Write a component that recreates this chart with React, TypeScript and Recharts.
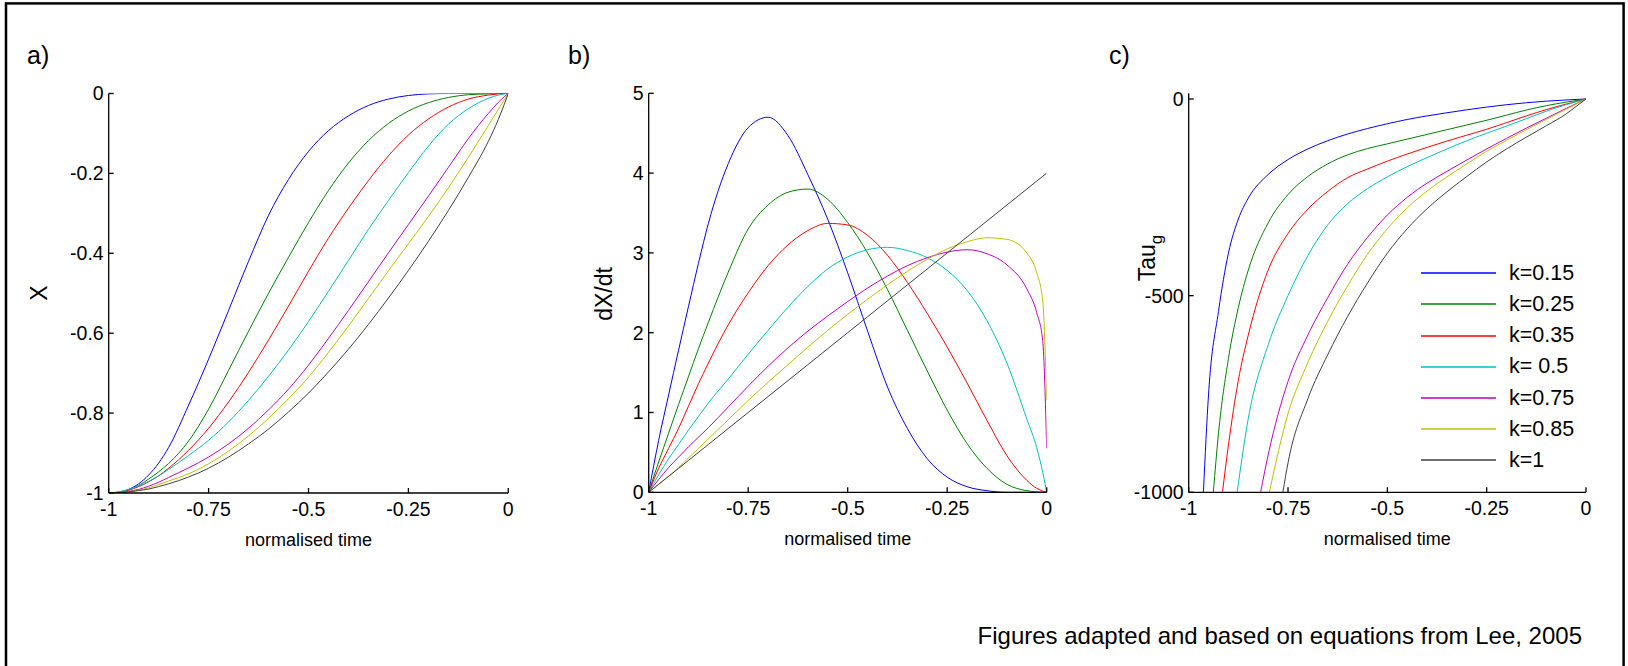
import React from "react";
import { LineChart, Line, XAxis, YAxis, Legend } from "recharts";

const FONT = "'Liberation Sans', Arial, sans-serif";

// normalised time grid shared by all panels
const TIME = [
  -1, -0.975, -0.95, -0.925, -0.9, -0.875, -0.85, -0.8, -0.75, -0.7, -0.65, -0.6, -0.55,
  -0.5, -0.45, -0.4, -0.35, -0.3, -0.25, -0.2, -0.15, -0.1, -0.05, -0.025, -0.01, 0,
];
const TIME_TICKS = [-1, -0.75, -0.5, -0.25, 0];

const K_LABELS = ["k=0.15", "k=0.25", "k=0.35", "k= 0.5", "k=0.75", "k=0.85", "k=1"];
const K_COLORS = ["#0000ff", "#008000", "#ff0000", "#00bfbf", "#bf00bf", "#bfbf00", "#404040"];

// a) X
const X_TICKS = [-1, -0.8, -0.6, -0.4, -0.2, 0];
const xK015 = [-1, -0.998, -0.991, -0.977, -0.955, -0.925, -0.886, -0.78, -0.665, -0.543, -0.42, -0.305, -0.215, -0.145, -0.093, -0.056, -0.03, -0.014, -0.005, -0.001, 0, 0, 0, 0, 0, 0];
const xK025 = [-1, -0.998, -0.992, -0.981, -0.965, -0.947, -0.926, -0.87, -0.79, -0.693, -0.595, -0.5, -0.41, -0.323, -0.243, -0.174, -0.118, -0.075, -0.044, -0.023, -0.01, -0.003, -0.001, 0, 0, 0];
const xK035 = [-1, -0.998, -0.993, -0.984, -0.972, -0.957, -0.938, -0.893, -0.838, -0.772, -0.698, -0.617, -0.532, -0.445, -0.362, -0.287, -0.218, -0.156, -0.104, -0.064, -0.034, -0.014, -0.004, -0.001, 0, 0];
const xK05 = [-1, -0.997, -0.991, -0.982, -0.971, -0.957, -0.941, -0.906, -0.868, -0.822, -0.768, -0.708, -0.642, -0.571, -0.495, -0.418, -0.34, -0.268, -0.198, -0.132, -0.077, -0.038, -0.012, -0.004, -0.001, 0];
const xK075 = [-1, -0.999, -0.996, -0.991, -0.983, -0.973, -0.961, -0.937, -0.91, -0.877, -0.838, -0.792, -0.74, -0.68, -0.613, -0.543, -0.471, -0.399, -0.328, -0.257, -0.185, -0.113, -0.05, -0.022, -0.008, 0];
const xK085 = [-1, -0.999, -0.997, -0.993, -0.987, -0.979, -0.97, -0.952, -0.927, -0.895, -0.857, -0.813, -0.764, -0.71, -0.648, -0.582, -0.513, -0.444, -0.376, -0.308, -0.236, -0.16, -0.08, -0.04, -0.016, 0];
const xK1 = [-1, -0.999, -0.997, -0.994, -0.99, -0.984, -0.977, -0.96, -0.938, -0.91, -0.877, -0.84, -0.797, -0.75, -0.697, -0.64, -0.578, -0.512, -0.443, -0.37, -0.293, -0.21, -0.12, -0.065, -0.027, 0];

// b) dX/dt
const RATE_TICKS = [0, 1, 2, 3, 4, 5];
const rateK015 = [0, 0.65, 1.22, 1.78, 2.33, 2.87, 3.37, 4.12, 4.57, 4.7, 4.47, 3.98, 3.42, 2.75, 2.02, 1.32, 0.8, 0.42, 0.19, 0.07, 0.02, 0, 0, 0, 0, 0];
const rateK025 = [0, 0.38, 0.74, 1.1, 1.45, 1.8, 2.13, 2.76, 3.3, 3.6, 3.76, 3.8, 3.67, 3.38, 3.0, 2.54, 2.03, 1.52, 1.03, 0.61, 0.3, 0.1, 0.02, 0.005, 0, 0];
const rateK035 = [0, 0.3, 0.55, 0.8, 1.08, 1.36, 1.62, 2.1, 2.5, 2.84, 3.1, 3.28, 3.37, 3.35, 3.22, 2.97, 2.63, 2.24, 1.82, 1.37, 0.9, 0.46, 0.15, 0.05, 0.015, 0];
const rateK05 = [0, 0.22, 0.42, 0.6, 0.78, 0.95, 1.12, 1.42, 1.73, 2.03, 2.32, 2.58, 2.8, 2.95, 3.04, 3.07, 3.03, 2.94, 2.78, 2.53, 2.15, 1.62, 0.92, 0.56, 0.25, 0];
const rateK075 = [0, 0.16, 0.31, 0.44, 0.57, 0.69, 0.81, 1.07, 1.33, 1.58, 1.81, 2.02, 2.21, 2.39, 2.56, 2.71, 2.84, 2.94, 3.01, 3.04, 2.99, 2.85, 2.55, 2.25, 1.9, 0.55];
const rateK085 = [0, 0.1, 0.2, 0.31, 0.43, 0.55, 0.67, 0.91, 1.15, 1.38, 1.6, 1.82, 2.03, 2.23, 2.42, 2.6, 2.77, 2.92, 3.05, 3.14, 3.19, 3.17, 3.0, 2.75, 2.4, 1.15];
const rateK1 = [0, 0.1, 0.2, 0.3, 0.4, 0.5, 0.6, 0.8, 1.0, 1.2, 1.4, 1.6, 1.8, 2.0, 2.2, 2.4, 2.6, 2.8, 3.0, 3.2, 3.4, 3.6, 3.8, 3.9, 3.96, 4.0];

// c) Tau_g  (curves enter the box at -1000 at the start times below)
const TAU_TICKS = [-1000, -500, 0];
const TAU_START = [-0.963, -0.938, -0.915, -0.878, -0.819, -0.797, -0.763];
const tauK015 = [null, null, -750, -540, -392, -305, -252, -192, -154, -127, -106, -89, -75, -63, -52, -43, -35, -27.5, -20.5, -14.5, -9.5, -5.5, -2.5, -1.2, -0.4, 0];
const tauK025 = [null, null, null, -850, -660, -530, -435, -315, -243, -197, -165, -142, -126, -114, -102, -90, -78, -66, -54, -41, -28, -17, -8, -4, -1.5, 0];
const tauK035 = [null, null, null, null, -880, -715, -600, -435, -342, -280, -235, -200, -178, -158, -140, -123, -107, -92, -77, -60, -43, -27, -13, -6.5, -2.5, 0];
const tauK05 = [null, null, null, null, null, -978, -812, -625, -500, -398, -320, -266, -228, -198, -172, -149, -127, -106, -87, -69, -50, -31, -14.5, -7, -3, 0];
const tauK075 = [null, null, null, null, null, null, null, -905, -718, -600, -505, -420, -352, -295, -250, -214, -184, -155, -127, -100, -74, -49, -24, -12, -5, 0];
const tauK085 = [null, null, null, null, null, null, null, null, -800, -670, -565, -475, -395, -330, -277, -234, -198, -165, -133, -105, -78, -52, -26, -13, -5, 0];
const tauK1 = [null, null, null, null, null, null, null, null, -925, -762, -650, -553, -468, -392, -330, -279, -236, -197, -160, -127, -97, -68, -38, -19, -7.5, 0];

type Pt = { t: number; v: number };

function toRows(vals: (number | null)[], start?: number, startValue?: number): Pt[] {
  const rows: Pt[] = [];
  if (start !== undefined && startValue !== undefined) rows.push({ t: start, v: startValue });
  TIME.forEach((t, i) => {
    const v = vals[i];
    if (v !== null && v !== undefined) rows.push({ t, v });
  });
  return rows;
}

const axisLine = { stroke: "#000", strokeWidth: 1.3 };
const tickLine = { stroke: "#000", strokeWidth: 1.3 };
const tickText = { fill: "#000", fontSize: 19.5, fontFamily: FONT };

type PanelProps = {
  left: number;
  plotLeft: number;
  plotTop: number;
  plotWidth: number;
  plotHeight: number;
  series: Pt[][];
  yDomain: [number, number];
  yTicks: number[];
  legend?: boolean;
};

function renderLegend(props: any) {
  // keep the k order of the series, not an alphabetical one
  const items = [...(props.payload || [])].sort(
    (a: any, b: any) => K_LABELS.indexOf(a.value) - K_LABELS.indexOf(b.value)
  );
  return (
    <div style={{ fontFamily: FONT, fontSize: 21.5, color: "#000" }}>
      {items.map((e: any) => (
        <div key={e.value} style={{ display: "flex", alignItems: "center", height: 31.2 }}>
          <svg width={75} height={4} style={{ marginRight: 13, display: "block" }}>
            <line x1={0} x2={75} y1={2} y2={2} stroke={e.color} strokeWidth={1.3} />
          </svg>
          <span style={{ whiteSpace: "pre" }}>{e.value}</span>
        </div>
      ))}
    </div>
  );
}

function Panel({ left, plotLeft, plotTop, plotWidth, plotHeight, series, yDomain, yTicks, legend }: PanelProps) {
  const W = 540;
  const H = 666;
  const yAxisW = 60;
  const xAxisH = 50;
  const margin = {
    top: plotTop,
    left: plotLeft - yAxisW,
    right: W - plotLeft - plotWidth,
    bottom: H - plotTop - plotHeight - xAxisH,
  };
  return (
    <div style={{ position: "absolute", left, top: 0 }}>
      <LineChart width={W} height={H} margin={margin}>
        <XAxis
          type="number"
          dataKey="t"
          domain={[-1, 0]}
          ticks={TIME_TICKS}
          interval={0}
          allowDataOverflow
          height={xAxisH}
          axisLine={axisLine}
          tickLine={tickLine}
          tickSize={-5}
          tickMargin={14}
          tick={tickText}
          label={{ value: "normalised time", position: "bottom", offset: -10, fill: "#000", fontSize: 18, fontFamily: FONT }}
        />
        <XAxis
          xAxisId="top"
          orientation="top"
          type="number"
          dataKey="t"
          domain={[-1, 0]}
          ticks={TIME_TICKS}
          allowDataOverflow
          height={0}
          axisLine={axisLine}
          tickLine={tickLine}
          tickSize={-5}
          tick={false}
        />
        <YAxis
          type="number"
          domain={yDomain}
          ticks={yTicks}
          interval={0}
          allowDataOverflow
          width={yAxisW}
          axisLine={axisLine}
          tickLine={tickLine}
          tickSize={-5}
          tickMargin={10}
          tick={tickText}
        />
        <YAxis
          yAxisId="right"
          orientation="right"
          type="number"
          domain={yDomain}
          ticks={yTicks}
          allowDataOverflow
          width={0}
          axisLine={axisLine}
          tickLine={tickLine}
          tickSize={-5}
          tick={false}
        />
        {series.map((rows, i) => (
          <Line
            key={K_LABELS[i]}
            data={rows}
            dataKey="v"
            name={K_LABELS[i]}
            type="monotone"
            stroke={K_COLORS[i]}
            strokeWidth={1}
            dot={false}
            activeDot={false}
            isAnimationActive={false}
          />
        ))}
        {legend && (
          <Legend
            layout="vertical"
            align="center"
            verticalAlign="middle"
            content={renderLegend}
            wrapperStyle={{ left: 341, top: 257.7, width: "auto" }}
          />
        )}
      </LineChart>
    </div>
  );
}

const xSeries = [xK015, xK025, xK035, xK05, xK075, xK085, xK1].map((v) => toRows(v));
const rateSeries = [rateK015, rateK025, rateK035, rateK05, rateK075, rateK085, rateK1].map((v) => toRows(v));
const tauSeries = [tauK015, tauK025, tauK035, tauK05, tauK075, tauK085, tauK1].map((v, i) =>
  toRows(v, TAU_START[i], -1000)
);

export default function App() {
  return (
    <div style={{ position: "absolute", left: 0, top: 0, width: 1628, height: 666, background: "#fff", overflow: "hidden" }}>
      <Panel left={0} plotLeft={108.7} plotTop={93.5} plotWidth={399.6} plotHeight={399.5} series={xSeries} yDomain={[-1, 0]} yTicks={X_TICKS} />
      <Panel left={540} plotLeft={108.7} plotTop={93.3} plotWidth={398} plotHeight={399} series={rateSeries} yDomain={[0, 5]} yTicks={RATE_TICKS} />
      <Panel left={1080} plotLeft={108.7} plotTop={93.3} plotWidth={397.3} plotHeight={399} series={tauSeries} yDomain={[-1000, 14.5]} yTicks={TAU_TICKS} legend />
      <svg width={1628} height={666} style={{ position: "absolute", left: 0, top: 0, pointerEvents: "none" }} fontFamily={FONT}>
        <rect x={6} y={3.4} width={1617.6} height={680} fill="none" stroke="#000" strokeWidth={2.5} />
        <text x={27} y={64} fontSize={25}>a)</text>
        <text x={568} y={64} fontSize={25}>b)</text>
        <text x={1109} y={64} fontSize={25}>c)</text>
        <text x={47} y={293} fontSize={23} textAnchor="middle" transform="rotate(-90 47 293)">X</text>
        <text x={612} y={294} fontSize={23} textAnchor="middle" transform="rotate(-90 612 294)">dX/dt</text>
        <text x={1155} y={258} fontSize={23} textAnchor="middle" transform="rotate(-90 1155 258)">
          Tau<tspan dy={7} fontSize={17}>g</tspan>
        </text>
        <text x={1582} y={644} fontSize={24} textAnchor="end">Figures adapted and based on equations from Lee, 2005</text>
      </svg>
    </div>
  );
}
